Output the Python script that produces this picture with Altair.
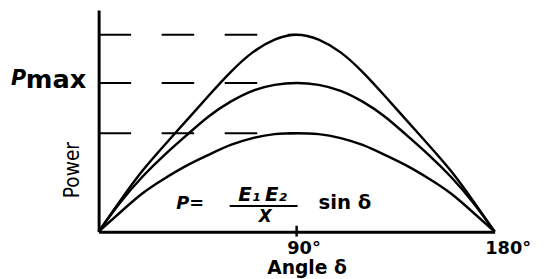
import altair as alt
import pandas as pd

# Data
angles = [0, 10, 20, 30, 40, 50, 60, 70, 80, 90, 100, 110, 120, 130, 140, 150, 160, 170, 180]
upper = [0, 0.32, 0.62, 0.88, 1.13, 1.38, 1.62, 1.82, 1.95, 2.0, 1.95, 1.82, 1.62, 1.38, 1.13, 0.88, 0.62, 0.32, 0]
middle = [0, 0.30, 0.56, 0.78, 0.98, 1.17, 1.32, 1.43, 1.49, 1.51, 1.49, 1.43, 1.32, 1.17, 0.98, 0.78, 0.56, 0.30, 0]
lower = [0, 0.20, 0.39, 0.54, 0.67, 0.78, 0.88, 0.95, 0.99, 1.0, 0.99, 0.95, 0.88, 0.78, 0.67, 0.54, 0.39, 0.20, 0]
levels = [1.0, 1.51, 2.0]
tick_values = [90, 180]

rows = []
for name, vals in [("upper", upper), ("middle", middle), ("lower", lower)]:
    for a, v in zip(angles, vals):
        rows.append({"angle": a, "power": v, "curve": name})
df = pd.DataFrame(rows)
lev = pd.DataFrame({"level": levels, "start": [0] * 3, "end": [90] * 3})
one = pd.DataFrame({"k": [0]})

FONT = "DejaVu Sans"

xs = alt.Scale(domain=[0, 180], nice=False)
ys = alt.Scale(domain=[0, 2.25], nice=False)

curves = alt.Chart(df).mark_line(color="black", strokeWidth=2.5, interpolate="natural").encode(
    x=alt.X("angle:Q", scale=xs, axis=alt.Axis(
        values=tick_values,
        labelExpr="datum.value + '°'",
        ticks=False, grid=False, labelFlush=False, labelAlign="left", labelOffset=-10,
        domainColor="black", domainWidth=3, labelFont=FONT, labelFontWeight="bold",
        labelFontSize=18, labelColor="black", labelPadding=8,
        title="Angle δ", titleFont=FONT, titleFontWeight="bold", titleFontSize=19,
        titleColor="black", titleX=211, titleY=42, titleBaseline="alphabetic")),
    y=alt.Y("power:Q", scale=ys, axis=alt.Axis(
        values=[], ticks=False, labels=False, grid=False, domainColor="black", domainWidth=3,
        title="Power", titleFont="Liberation Sans Narrow, DejaVu Sans Condensed, sans-serif",
        titleFontSize=21, titleFontWeight="normal", titleColor="black",
        titleX=-26, titleY=162, titleAngle=270, titleAlign="center", titleBaseline="middle")),
    detail="curve:N",
)

dashes = alt.Chart(lev).mark_rule(color="black", strokeWidth=2, strokeDash=[33, 31]).encode(
    x=alt.X("start:Q", scale=xs), x2="end:Q", y=alt.Y("level:Q", scale=ys)
)

tick90 = alt.Chart(one).mark_rule(color="black", strokeWidth=2.5).encode(
    x=alt.datum(90, scale=xs), y=alt.value(219), y2=alt.value(230)
)

def txt(t, x, y, size, italic=False, align="center"):
    kw = dict(text=t, font=FONT, fontWeight="bold", fontSize=size, color="black",
              align=align, baseline="alphabetic")
    if italic:
        kw["fontStyle"] = "italic"
    return alt.Chart(one).mark_text(**kw).encode(x=alt.value(x), y=alt.value(y))

p_lab = txt("P", -89, 76, 21, italic=True, align="left")
max_lab = txt("max", -74, 79, 26, align="left")
f_p = txt("P=", 93, 202, 18, italic=True)
f_e1 = txt("E₁", 153, 194, 20, italic=True)
f_e2 = txt("E₂", 180, 194, 20, italic=True)
f_den = txt("X", 169, 215, 17, italic=True)
f_sin = txt("sin  δ", 250, 202, 20)
bar = alt.Chart(one).mark_rule(color="black", strokeWidth=2).encode(
    x=alt.value(133), x2=alt.value(202), y=alt.value(199)
)

chart = alt.layer(dashes, curves, tick90, p_lab, max_lab, f_p, f_e1, f_e2, f_den, f_sin, bar).properties(
    width=402, height=225,
    autosize=alt.AutoSizeParams(type="none"),
    padding={"left": 92, "top": 0, "right": 42, "bottom": 46},
    background="white",
).configure_view(stroke=None)

chart.save("out.html", embed_options={"renderer": "svg", "actions": False})
